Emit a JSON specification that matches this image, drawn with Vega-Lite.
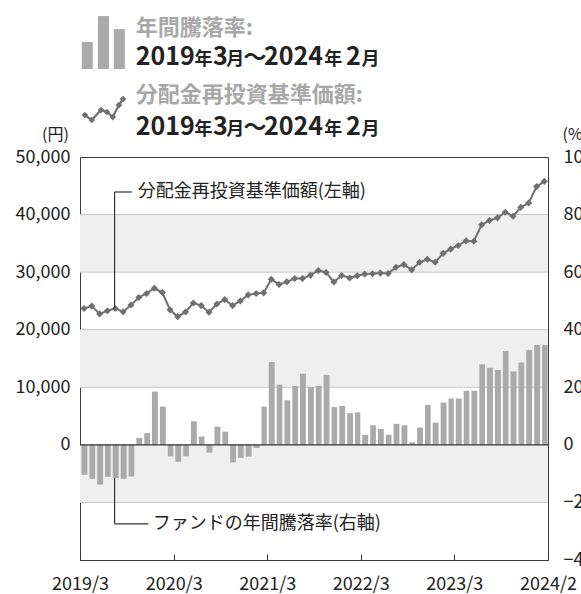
{
  "$schema": "https://vega.github.io/schema/vega-lite/v6.json",
  "autosize": "none",
  "width": 468,
  "height": 403,
  "padding": {"left": 80, "top": 157, "right": 33, "bottom": 34},
  "background": "white",
  "config": {
    "font": "Noto Sans CJK JP",
    "view": {"stroke": "#3a3a3a", "strokeWidth": 1}
  },
  "data": {
    "values": [
      {"date": "2019-03-01", "pct": -10.4, "nav": 23700},
      {"date": "2019-04-01", "pct": -11.8, "nav": 24100},
      {"date": "2019-05-01", "pct": -13.8, "nav": 22750},
      {"date": "2019-06-01", "pct": -11.1, "nav": 23300},
      {"date": "2019-07-01", "pct": -11.5, "nav": 23700},
      {"date": "2019-08-01", "pct": -11.8, "nav": 23100},
      {"date": "2019-09-01", "pct": -11.0, "nav": 24300},
      {"date": "2019-10-01", "pct": 2.4, "nav": 25600},
      {"date": "2019-11-01", "pct": 4.1, "nav": 26300},
      {"date": "2019-12-01", "pct": 18.5, "nav": 27200},
      {"date": "2020-01-01", "pct": 13.3, "nav": 26450},
      {"date": "2020-02-01", "pct": -4.0, "nav": 23450},
      {"date": "2020-03-01", "pct": -5.9, "nav": 22270},
      {"date": "2020-04-01", "pct": -4.0, "nav": 23080},
      {"date": "2020-05-01", "pct": 8.2, "nav": 24650},
      {"date": "2020-06-01", "pct": 2.9, "nav": 24190},
      {"date": "2020-07-01", "pct": -2.7, "nav": 23020},
      {"date": "2020-08-01", "pct": 6.3, "nav": 24480},
      {"date": "2020-09-01", "pct": 4.6, "nav": 25230},
      {"date": "2020-10-01", "pct": -6.1, "nav": 24190},
      {"date": "2020-11-01", "pct": -4.5, "nav": 25000},
      {"date": "2020-12-01", "pct": -4.1, "nav": 26050},
      {"date": "2021-01-01", "pct": -1.1, "nav": 26280},
      {"date": "2021-02-01", "pct": 13.3, "nav": 26400},
      {"date": "2021-03-01", "pct": 28.8, "nav": 28780},
      {"date": "2021-04-01", "pct": 20.9, "nav": 27850},
      {"date": "2021-05-01", "pct": 15.5, "nav": 28310},
      {"date": "2021-06-01", "pct": 20.5, "nav": 28900},
      {"date": "2021-07-01", "pct": 24.7, "nav": 28880},
      {"date": "2021-08-01", "pct": 20.1, "nav": 29480},
      {"date": "2021-09-01", "pct": 20.5, "nav": 30300},
      {"date": "2021-10-01", "pct": 24.3, "nav": 29940},
      {"date": "2021-11-01", "pct": 13.1, "nav": 28290},
      {"date": "2021-12-01", "pct": 13.5, "nav": 29430},
      {"date": "2022-01-01", "pct": 11.0, "nav": 28970},
      {"date": "2022-02-01", "pct": 11.3, "nav": 29370},
      {"date": "2022-03-01", "pct": 3.5, "nav": 29660},
      {"date": "2022-04-01", "pct": 6.8, "nav": 29710},
      {"date": "2022-05-01", "pct": 5.5, "nav": 29830},
      {"date": "2022-06-01", "pct": 3.5, "nav": 29770},
      {"date": "2022-07-01", "pct": 7.3, "nav": 30860},
      {"date": "2022-08-01", "pct": 6.8, "nav": 31310},
      {"date": "2022-09-01", "pct": 0.9, "nav": 30400},
      {"date": "2022-10-01", "pct": 6.0, "nav": 31710},
      {"date": "2022-11-01", "pct": 13.9, "nav": 32230},
      {"date": "2022-12-01", "pct": 7.7, "nav": 31710},
      {"date": "2023-01-01", "pct": 14.7, "nav": 33260},
      {"date": "2023-02-01", "pct": 16.1, "nav": 34000},
      {"date": "2023-03-01", "pct": 16.1, "nav": 34630},
      {"date": "2023-04-01", "pct": 18.8, "nav": 35430},
      {"date": "2023-05-01", "pct": 18.8, "nav": 35370},
      {"date": "2023-06-01", "pct": 28.0, "nav": 38230},
      {"date": "2023-07-01", "pct": 26.8, "nav": 38970},
      {"date": "2023-08-01", "pct": 26.0, "nav": 39430},
      {"date": "2023-09-01", "pct": 32.6, "nav": 40400},
      {"date": "2023-10-01", "pct": 25.5, "nav": 39710},
      {"date": "2023-11-01", "pct": 28.6, "nav": 41260},
      {"date": "2023-12-01", "pct": 32.9, "nav": 42000},
      {"date": "2024-01-01", "pct": 34.7, "nav": 44860},
      {"date": "2024-02-01", "pct": 34.7, "nav": 45770}
    ]
  },
  "resolve": {"scale": {"y": "independent"}},
  "layer": [
    {
      "layer": [
        {
          "data": {"values": [{"lo": 30000, "hi": 40000}, {"lo": 10000, "hi": 20000}, {"lo": -10000, "hi": 0}]},
          "mark": {"type": "rect", "color": "#efefef"},
          "encoding": {
            "x": {"datum": {"year": 2019, "month": 3, "date": 1, "utc": true}, "type": "temporal",
                  "scale": {"type": "utc", "domain": [{"year": 2019, "month": 3, "date": 1, "utc": true}, {"year": 2024, "month": 3, "date": 1, "utc": true}]}},
            "x2": {"datum": {"year": 2024, "month": 3, "date": 1, "utc": true}},
            "y": {"field": "lo", "type": "quantitative", "title": "(円)",
                  "scale": {"domain": [-20000, 50000], "nice": false, "zero": false},
                  "axis": {"orient": "left", "values": [0, 10000, 20000, 30000, 40000, 50000],
                           "labelExpr": "format(datum.value, ',')",
                           "ticks": false, "domain": false, "grid": false, "labelPadding": 10,
                           "labelFontSize": 18, "labelColor": "#222",
                           "title": "(円)", "titleAngle": 0, "titleAlign": "center", "titleBaseline": "middle",
                           "titleX": -25, "titleY": -23, "titleFontSize": 16, "titleFontWeight": "normal", "titleColor": "#222"}},
            "y2": {"field": "hi"}
          }
        },
        {
          "data": {"values": [{"v": 40000}, {"v": 30000}, {"v": 20000}, {"v": 10000}, {"v": -10000}]},
          "mark": {"type": "rule", "color": "#c8c8c8", "strokeWidth": 1},
          "encoding": {
            "y": {"field": "v", "type": "quantitative", "title": "(円)"}
          }
        },
        {
          "mark": {"type": "line", "color": "#707070", "strokeWidth": 2,
                   "point": {"shape": "diamond", "filled": true, "size": 50, "color": "#707070"}},
          "encoding": {
            "x": {"field": "date", "timeUnit": "utcyearmonth", "type": "temporal", "bandPosition": 0.5, "title": null},
            "y": {"field": "nav", "type": "quantitative", "title": "(円)"}
          }
        },
        {
          "data": {"values": [{}]},
          "mark": {"type": "rule", "color": "#333", "strokeWidth": 1.2},
          "encoding": {
            "x": {"datum": {"year": 2019, "month": 7, "date": 14, "utc": true}, "type": "temporal"},
            "y": {"datum": 23700, "type": "quantitative"},
            "y2": {"datum": 43924}
          }
        },
        {
          "data": {"values": [{}]},
          "mark": {"type": "rule", "color": "#333", "strokeWidth": 1.2},
          "encoding": {
            "x": {"datum": {"year": 2019, "month": 7, "date": 14, "utc": true}, "type": "temporal"},
            "x2": {"datum": {"year": 2019, "month": 9, "date": 19, "utc": true}},
            "y": {"datum": 43924, "type": "quantitative"}
          }
        },
        {
          "data": {"values": [{}]},
          "mark": {"type": "rule", "color": "#333", "strokeWidth": 1.2},
          "encoding": {
            "x": {"datum": {"year": 2019, "month": 7, "date": 14, "utc": true}, "type": "temporal"},
            "y": {"datum": -5750, "type": "quantitative"},
            "y2": {"datum": -13715}
          }
        },
        {
          "data": {"values": [{}]},
          "mark": {"type": "rule", "color": "#333", "strokeWidth": 1.2},
          "encoding": {
            "x": {"datum": {"year": 2019, "month": 7, "date": 14, "utc": true}, "type": "temporal"},
            "x2": {"datum": {"year": 2019, "month": 11, "date": 23, "utc": true}},
            "y": {"datum": -13715, "type": "quantitative"}
          }
        },
        {
          "data": {"values": [{"t": "分配金再投資基準価額(左軸)"}]},
          "mark": {"type": "text", "align": "left", "baseline": "middle", "fontSize": 18, "color": "#222"},
          "encoding": {
            "x": {"datum": {"year": 2019, "month": 10, "date": 12, "utc": true}, "type": "temporal"},
            "y": {"datum": 43924, "type": "quantitative"},
            "text": {"field": "t"}
          }
        },
        {
          "data": {"values": [{"t": "ファンドの年間騰落率(右軸)"}]},
          "mark": {"type": "text", "align": "left", "baseline": "middle", "fontSize": 18, "color": "#222"},
          "encoding": {
            "x": {"datum": {"year": 2019, "month": 12, "date": 10, "utc": true}, "type": "temporal"},
            "y": {"datum": -13715, "type": "quantitative"},
            "text": {"field": "t"}
          }
        },
        {
          "data": {"values": [{}]},
          "mark": {"type": "rect", "color": "#aaaaaa"},
          "encoding": {
            "x": {"datum": {"year": 2019, "month": 3, "date": 8, "utc": true}, "type": "temporal"},
            "x2": {"datum": {"year": 2019, "month": 4, "date": 20, "utc": true}},
            "y": {"datum": 65278, "type": "quantitative"},
            "y2": {"datum": 69965}
          }
        },
        {
          "data": {"values": [{}]},
          "mark": {"type": "rect", "color": "#aaaaaa"},
          "encoding": {
            "x": {"datum": {"year": 2019, "month": 5, "date": 10, "utc": true}, "type": "temporal"},
            "x2": {"datum": {"year": 2019, "month": 6, "date": 22, "utc": true}},
            "y": {"datum": 65278, "type": "quantitative"},
            "y2": {"datum": 74479}
          }
        },
        {
          "data": {"values": [{}]},
          "mark": {"type": "rect", "color": "#aaaaaa"},
          "encoding": {
            "x": {"datum": {"year": 2019, "month": 7, "date": 11, "utc": true}, "type": "temporal"},
            "x2": {"datum": {"year": 2019, "month": 8, "date": 23, "utc": true}},
            "y": {"datum": 65278, "type": "quantitative"},
            "y2": {"datum": 72222}
          }
        },
        {
          "data": {"values": [
            {"d": "2019-03-20", "v": 57292},
            {"d": "2019-04-16", "v": 56424},
            {"d": "2019-05-22", "v": 58160},
            {"d": "2019-06-14", "v": 57813},
            {"d": "2019-07-07", "v": 56944},
            {"d": "2019-07-31", "v": 59028},
            {"d": "2019-08-16", "v": 60069}
          ]},
          "mark": {"type": "line", "color": "#707070", "strokeWidth": 2.2,
                   "point": {"shape": "diamond", "filled": true, "size": 45, "color": "#707070"}},
          "encoding": {
            "x": {"field": "d", "type": "temporal", "title": null},
            "y": {"field": "v", "type": "quantitative", "title": "(円)"}
          }
        },
        {
          "data": {"values": [{}]},
          "mark": {"type": "text", "text": ["年間騰落率:", "分配金再投資基準価額:"], "lineHeight": 67,
                   "align": "left", "baseline": "alphabetic", "fontSize": 22, "fontWeight": "bold", "color": "#a8a8a8"},
          "encoding": {
            "x": {"datum": {"year": 2019, "month": 10, "date": 5, "utc": true}, "type": "temporal"},
            "y": {"datum": 71180, "type": "quantitative"}
          }
        },
        {
          "data": {"values": [{}]},
          "mark": {"type": "text", "text": ["2019", "2019"], "lineHeight": 70,
                   "align": "left", "baseline": "alphabetic", "fontSize": 25, "fontWeight": "bold", "color": "#222"},
          "encoding": {
            "x": {"datum": {"year": 2019, "month": 10, "date": 5, "utc": true}, "type": "temporal"},
            "y": {"datum": 65972, "type": "quantitative"}
          }
        },
        {
          "data": {"values": [{}]},
          "mark": {"type": "text", "text": ["年", "年"], "lineHeight": 70,
                   "align": "left", "baseline": "alphabetic", "fontSize": 18, "fontWeight": "bold", "color": "#222"},
          "encoding": {
            "x": {"datum": {"year": 2020, "month": 5, "date": 21, "utc": true}, "type": "temporal"},
            "y": {"datum": 65972, "type": "quantitative"}
          }
        },
        {
          "data": {"values": [{}]},
          "mark": {"type": "text", "text": ["3", "3"], "lineHeight": 70,
                   "align": "left", "baseline": "alphabetic", "fontSize": 25, "fontWeight": "bold", "color": "#222"},
          "encoding": {
            "x": {"datum": {"year": 2020, "month": 8, "date": 1, "utc": true}, "type": "temporal"},
            "y": {"datum": 65972, "type": "quantitative"}
          }
        },
        {
          "data": {"values": [{}]},
          "mark": {"type": "text", "text": ["月", "月"], "lineHeight": 70,
                   "align": "left", "baseline": "alphabetic", "fontSize": 18, "fontWeight": "bold", "color": "#222"},
          "encoding": {
            "x": {"datum": {"year": 2020, "month": 9, "date": 22, "utc": true}, "type": "temporal"},
            "y": {"datum": 65972, "type": "quantitative"}
          }
        },
        {
          "data": {"values": [{}]},
          "mark": {"type": "text", "text": ["～", "～"], "lineHeight": 70,
                   "align": "left", "baseline": "alphabetic", "fontSize": 23, "fontWeight": "bold", "color": "#222"},
          "encoding": {
            "x": {"datum": {"year": 2020, "month": 11, "date": 28, "utc": true}, "type": "temporal"},
            "y": {"datum": 65972, "type": "quantitative"}
          }
        },
        {
          "data": {"values": [{}]},
          "mark": {"type": "text", "text": ["2024", "2024"], "lineHeight": 70,
                   "align": "left", "baseline": "alphabetic", "fontSize": 25, "fontWeight": "bold", "color": "#222"},
          "encoding": {
            "x": {"datum": {"year": 2021, "month": 2, "date": 16, "utc": true}, "type": "temporal"},
            "y": {"datum": 65972, "type": "quantitative"}
          }
        },
        {
          "data": {"values": [{}]},
          "mark": {"type": "text", "text": ["年", "年"], "lineHeight": 70,
                   "align": "left", "baseline": "alphabetic", "fontSize": 18, "fontWeight": "bold", "color": "#222"},
          "encoding": {
            "x": {"datum": {"year": 2021, "month": 10, "date": 10, "utc": true}, "type": "temporal"},
            "y": {"datum": 65972, "type": "quantitative"}
          }
        },
        {
          "data": {"values": [{}]},
          "mark": {"type": "text", "text": ["2", "2"], "lineHeight": 70,
                   "align": "left", "baseline": "alphabetic", "fontSize": 25, "fontWeight": "bold", "color": "#222"},
          "encoding": {
            "x": {"datum": {"year": 2022, "month": 1, "date": 2, "utc": true}, "type": "temporal"},
            "y": {"datum": 65972, "type": "quantitative"}
          }
        },
        {
          "data": {"values": [{}]},
          "mark": {"type": "text", "text": ["月", "月"], "lineHeight": 70,
                   "align": "left", "baseline": "alphabetic", "fontSize": 18, "fontWeight": "bold", "color": "#222"},
          "encoding": {
            "x": {"datum": {"year": 2022, "month": 3, "date": 4, "utc": true}, "type": "temporal"},
            "y": {"datum": 65972, "type": "quantitative"}
          }
        }
      ]
    },
    {
      "layer": [
        {
          "mark": {"type": "bar", "color": "#aaaaaa", "width": {"band": 0.87}},
          "encoding": {
            "x": {"field": "date", "timeUnit": "utcyearmonth", "type": "temporal", "title": null,
                  "scale": {"type": "utc", "domain": [{"year": 2019, "month": 3, "date": 1, "utc": true}, {"year": 2024, "month": 3, "date": 1, "utc": true}]},
                  "axis": {
                    "values": [
                      {"year": 2019, "month": 3, "date": 1, "utc": true},
                      {"year": 2020, "month": 3, "date": 1, "utc": true},
                      {"year": 2021, "month": 3, "date": 1, "utc": true},
                      {"year": 2022, "month": 3, "date": 1, "utc": true},
                      {"year": 2023, "month": 3, "date": 1, "utc": true},
                      {"year": 2024, "month": 3, "date": 1, "utc": true}
                    ],
                    "labelExpr": "utcyear(datum.value) == 2024 ? '2024/2' : utcyear(datum.value) + '/' + (utcmonth(datum.value) + 1)",
                    "title": null, "domain": false, "grid": false,
                    "ticks": true, "tickSize": -6, "tickColor": "#333", "tickWidth": 1,
                    "labelPadding": 21, "labelFontSize": 18, "labelColor": "#222",
                    "labelFlush": false, "labelOverlap": false
                  }},
            "y": {"field": "pct", "type": "quantitative", "title": "(%)",
                  "scale": {"domain": [-40, 100], "nice": false, "zero": false},
                  "axis": {"orient": "right", "values": [-40, -20, 0, 20, 40, 60, 80, 100],
                           "ticks": false, "domain": false, "grid": false, "labelPadding": 15,
                           "labelFontSize": 18, "labelColor": "#222",
                           "title": "(%)", "titleAngle": 0, "titleAlign": "left", "titleBaseline": "middle",
                           "titleX": 14, "titleY": -23, "titleFontSize": 16, "titleFontWeight": "normal", "titleColor": "#222"}}
          }
        },
        {
          "data": {"values": [{}]},
          "mark": {"type": "rule", "color": "#333", "strokeWidth": 1.3},
          "encoding": {
            "y": {"datum": 0, "type": "quantitative"}
          }
        }
      ]
    }
  ]
}
